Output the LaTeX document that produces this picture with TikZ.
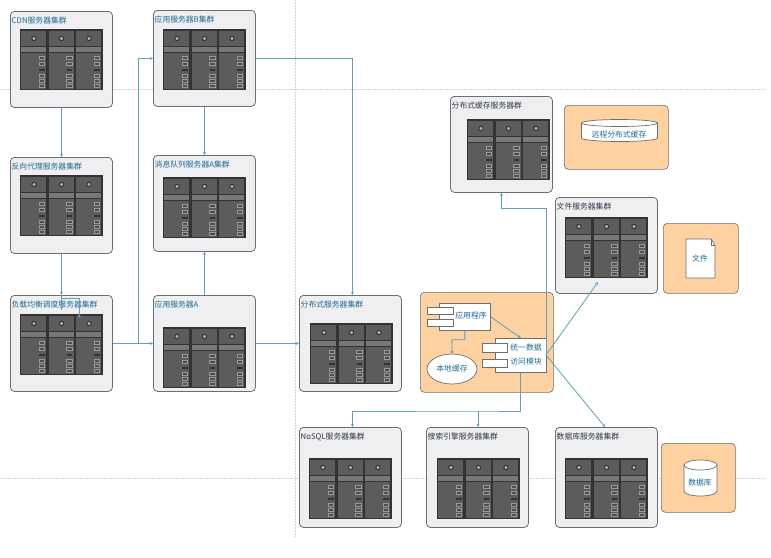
\documentclass[tikz,border=0pt]{standalone}
\usepackage{fontspec}
\setmainfont{Noto Sans CJK SC}
\usetikzlibrary{arrows.meta,shapes.geometric}
\definecolor{linkblue}{HTML}{5F9FBA}
\definecolor{titleblue}{HTML}{1F6A94}
\definecolor{titledark}{HTML}{2E3A42}
\definecolor{boxgrey}{HTML}{EFEFF1}
\definecolor{edgegrey}{HTML}{6E6E6E}
\definecolor{panelorange}{HTML}{FDD1A0}
\definecolor{rackdark}{HTML}{333333}
\definecolor{rackunit}{HTML}{5C5C5C}
\definecolor{rackstrip}{HTML}{787878}
\tikzset{
  guide/.style={draw=black!18,densely dotted,line width=.5pt},
  clusterbox/.style={draw=edgegrey,fill=boxgrey,rounded corners=4pt,line width=.8pt,minimum width=#1,anchor=north west,inner sep=0pt},
  panel/.style={draw=edgegrey,fill=panelorange,rounded corners=4pt,line width=.6pt,anchor=north west,inner sep=0pt},
  title/.style={anchor=west,inner sep=0pt,font=\fontsize{7.8}{9}\selectfont},
  label/.style={text=titleblue,inner sep=0pt,font=\fontsize{7.8}{9}\selectfont},
  part/.style={draw=edgegrey,fill=white,line width=.7pt,anchor=north west,inner sep=0pt},
  link/.style={draw=linkblue,line width=.8pt,-{Stealth[length=3pt,width=3pt]}},
  plainlink/.style={draw=linkblue,line width=.8pt},
  diskline/.style={draw=edgegrey,fill=white,line width=.7pt},
  rack/.pic={
    \fill[rackdark] (0,0) rectangle (82.5,61);
    \foreach \i in {0,1,2}{
      \fill[rackunit] (\i*27.5+1.2,1.5) rectangle (\i*27.5+26.3,17);
      \fill[rackstrip] (\i*27.5+1.2,18) rectangle (\i*27.5+26.3,23);
      \fill[rackunit] (\i*27.5+1.2,24) rectangle (\i*27.5+26.3,60);
      \draw[rackdark,fill=rackstrip!60,line width=1pt] (\i*27.5+14,9.5) circle (2.2pt);
      \foreach \j in {27,33,45,50,55}
        \draw[black!40,fill=rackunit!85!black,line width=.5pt] (\i*27.5+19,\j) rectangle (\i*27.5+24.5,\j+3);
      \fill[black!80] (\i*27.5+19,39.5) rectangle (\i*27.5+24.5,41.5);
    }
  }
}
% name, x, y, height, rack dx, rack dy, colour, title
\def\cluster#1#2#3#4#5#6#7#8{
  \node[clusterbox=102pt,minimum height=#4] (#1) at (#2,#3) {};
  \node[title,text=#7] (#1-title) at (#2+1.5,#3+9.5) {#8};
  \pic at (#2+#5,#3+#6) {rack};
}
% centre x, top y, half width, lid half height, body height
\def\disk#1#2#3#4#5{
  \draw[diskline] (#1-#3,#2+#4) arc[start angle=180,end angle=0,x radius=#3,y radius=-#4]
    -- ++(0,#5) arc[start angle=0,end angle=-180,x radius=#3,y radius=-#4] -- cycle;
  \draw[edgegrey,line width=.7pt] (#1-#3,#2+#4) arc[start angle=180,end angle=360,x radius=#3,y radius=-#4];
}

\begin{document}
\begin{tikzpicture}[x=1pt,y=-1pt]
  \useasboundingbox (0,0) rectangle (771,557);
  \draw[guide] (0,89) -- (765,89);
  \draw[guide] (0,478) -- (765,478);
  \draw[guide] (295,0) -- (295,537);

  \cluster{cdn}{10}{11}{96pt}{10}{18}{titleblue}{CDN服务器集群}
  \cluster{proxy}{10}{157}{96pt}{10}{18}{titleblue}{反向代理服务器集群}
  \cluster{balance}{10}{295}{96pt}{10}{19}{titleblue}{负载均衡调度服务器集群}
  \cluster{appb}{153}{10}{96pt}{10}{19}{titleblue}{应用服务器B集群}
  \cluster{queue}{153}{155}{96pt}{10}{22}{titleblue}{消息队列服务器A集群}
  \cluster{appa}{153}{295}{96pt}{10}{32}{titleblue}{应用服务器A}
  \cluster{dist}{299}{295}{96pt}{11}{28}{titleblue}{分布式服务器集群}
  \cluster{cache}{450}{96}{96pt}{17}{23}{titledark}{分布式缓存服务器群}
  \cluster{files}{555}{197}{96pt}{10}{20}{titledark}{文件服务器集群}
  \cluster{nosql}{299}{427}{100pt}{10}{31}{titledark}{NoSQL服务器集群}
  \cluster{search}{426}{427}{100pt}{11}{31}{titledark}{搜索引擎服务器集群}
  \cluster{database}{555}{427}{100pt}{10}{31}{titledark}{数据库服务器集群}

  % orange panels
  \node[panel,minimum width=104pt,minimum height=64pt] (remote) at (564,105) {};
  \node[panel,minimum width=75pt,minimum height=70pt] (filepanel) at (663,223) {};
  \node[panel,minimum width=74pt,minimum height=69pt] (dbpanel) at (661,443) {};
  \node[panel,minimum width=133pt,minimum height=100pt] (program) at (420,292) {};

  \disk{619.5}{119.5}{38}{3.5}{15}
  \node[label] (remotetext) at (619,135) {远程分布式缓存};
  \disk{700.5}{460}{16.5}{5}{26}
  \node[label] (dbtext) at (700,483) {数据库};
  \draw[edgegrey,fill=white,line width=.7pt] (686,239) -- (711,239) -- (715,245) -- (715,278) -- (686,278) -- cycle;
  \draw[edgegrey,line width=.5pt] (711,239) -- (711,245) -- (715,245);
  \node[label] (filetext) at (700,259) {文件};

  % components
  \node[part,minimum width=51pt,minimum height=27pt] (application) at (439,303) {};
  \node[part,minimum width=26pt,minimum height=7pt] (applicationtaba) at (427,307) {};
  \node[part,minimum width=26pt,minimum height=7pt] (applicationtabb) at (427,319) {};
  \node[label] (applicationtext) at (471,316) {应用程序};
  \node[part,minimum width=51pt,minimum height=34pt] (module) at (495,338) {};
  \node[part,minimum width=25pt,minimum height=9pt] (moduletaba) at (482,343) {};
  \node[part,minimum width=25pt,minimum height=8pt] (moduletabb) at (482,359) {};
  \node[label] (moduletexta) at (526,348) {统一数据};
  \node[label] (moduletextb) at (526,362) {访问模块};
  \node[ellipse,draw=edgegrey,fill=white,line width=.7pt,inner sep=0pt,minimum width=50pt,minimum height=30pt] (local) at (452,369) {};
  \node[label] (localtext) at (452,369) {本地缓存};

  % connectors
  \coordinate (stray) at (79,318);
  \coordinate (fork) at (138,343);
  \coordinate (split) at (478,411);
  \coordinate (moduleside) at (546,355);
  \coordinate (filesend) at (598,282);
  \coordinate (databaseend) at (605,427);
  \draw[link] (cdn.south) -- (proxy.north);
  \draw[link] (proxy.south) -- (balance.north);
  \draw[plainlink] (balance.north) -- ++(0,15);
  \draw[link] ([yshift=-3pt]balance.north) -| (stray);
  \draw[link,line width=1.1pt] (balance.east) -- (appa.west);
  \draw[link] (fork) |- (appb.west);
  \draw[link] (appb.south) -- (queue.north);
  \draw[link] (appa.north) -- (queue.south);
  \draw[link] (appb.east) -| ([xshift=2pt]dist.north);
  \draw[link] (appa.east) -- (dist.west);
  \draw[link] (application.east) -- (module.north);
  \draw[link] (application.south) |- ++(-13,9) -- (local.north);
  \draw[link] (module.south) |- (split) -| ([xshift=2pt]nosql.north);
  \draw[link] (split) -- (split |- search.north);
  \draw[link] (moduleside) |- ([yshift=-16pt]cache.south) -- (cache.south);
  \draw[link] (moduleside) -- (filesend);
  \draw[link] (moduleside) -- (databaseend);
\end{tikzpicture}
\end{document}
